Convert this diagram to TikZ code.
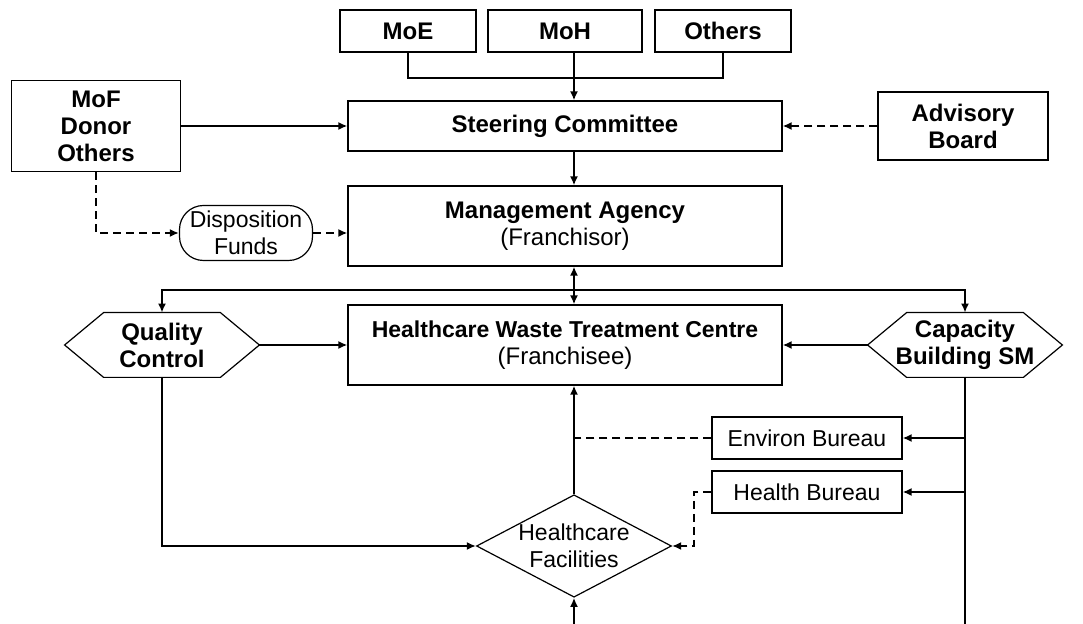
\documentclass[tikz,border=0pt]{standalone}
\usepackage{fontspec}
\setmainfont{Liberation Sans}
\usetikzlibrary{shapes.geometric,arrows.meta}

\begin{document}
\begin{tikzpicture}[x=0.5pt, y=-0.5pt, >={Latex[length=4.5pt,width=4pt]},
	box/.style={draw, line width=0.6pt, align=center, inner sep=1pt, font=\bfseries\fontsize{12}{13.5}\selectfont},
	plainbox/.style={box, font=\fontsize{11.5}{13.5}\selectfont},
	hexa/.style={align=center, inner sep=1pt, minimum width=97pt, minimum height=32pt, font=\bfseries\fontsize{12}{13.5}\selectfont},
	link/.style={line width=1pt},
	dashlink/.style={link, dash pattern=on 4pt off 2.5pt}]
	\useasboundingbox (0,0) rectangle (1083,624);
	\clip (0,0) rectangle (1083,624);
				% top row
				\node[box, minimum width=68pt, minimum height=21pt] (moe) at (408,31) {MoE};
				\node[box, minimum width=77pt, minimum height=21pt] (moh) at (565,31) {MoH};
				\node[box, minimum width=68pt, minimum height=21pt] (others) at (723,31) {Others};
				\node[box, minimum width=84.5pt, minimum height=45.5pt] (mof) at (96,126) {MoF\\Donor\\Others};
				\node[box, minimum width=217pt, minimum height=25pt] (steer) at (565,126) {Steering Committee};
				\node[box, minimum width=85pt, minimum height=34pt] (adv) at (963,126) {Advisory\\Board};
				\node[plainbox, rounded corners=12pt, minimum width=66.5pt, minimum height=27.5pt] (df) at (246,233) {Disposition\\Funds};
				\node[box, minimum width=217pt, minimum height=40pt] (ma) at (565,226) {Management Agency\\{\normalfont (Franchisor)}};
				% middle row
				\node[hexa] (qc) at (162,345) {Quality\\Control};
				\node[box, minimum width=217pt, minimum height=40pt] (hwtc) at (565,345) {{\fontsize{11.5}{13.5}\selectfont Healthcare Waste Treatment Centre}\\{\normalfont (Franchisee)}};
				\node[hexa] (cap) at (965,345) {Capacity\\Building SM};
				\foreach \n in {qc,cap}
					\draw[line width=0.6pt] (\n.west) -- ([xshift=19.5pt]\n.north west) -- ([xshift=-19.5pt]\n.north east) -- (\n.east) -- ([xshift=-19.5pt]\n.south east) -- ([xshift=19.5pt]\n.south west) -- cycle;
				% bureaus and facilities
				\node[plainbox, minimum width=95pt, minimum height=21pt] (env) at (807,438) {Environ Bureau};
				\node[plainbox, minimum width=95pt, minimum height=21pt] (hb) at (807,492) {Health Bureau};
				\node[plainbox, diamond, aspect=1.9, inner sep=0pt, minimum width=97.5pt, minimum height=51pt] (hf) at (574,546) {Healthcare\\Facilities};
				\coordinate (bus) at (574,290);
				\coordinate (low) at (574,660);
				% connectors
				\draw[link] (moe.south) -- ++(0,25) -| (others.south);
				\draw[link,->] ([xshift=4.5pt]moh.south) -- ([xshift=4.5pt]steer.north);
				\draw[link,->] (mof.east) -- (steer.west);
				\draw[dashlink,->] (adv.west) -- (steer.east);
				\draw[link,->] ([xshift=4.5pt]steer.south) -- ([xshift=4.5pt]ma.north);
				\draw[dashlink,->] (mof.south) |- (df.west);
				\draw[dashlink,->] (df.east) -- (df.east -| ma.west);
				\draw[link,<->] ([xshift=4.5pt]ma.south) -- ([xshift=4.5pt]hwtc.north);
				\draw[link,<->] (qc.north) |- (bus) -| (cap.north);
				\draw[link,->] (qc.east) -- (hwtc.west);
				\draw[link,->] (cap.west) -- (hwtc.east);
				\draw[link,->] (hf.north) -- (hf.north |- hwtc.south);
				\draw[dashlink] (env.west) -- (env.west -| hf.north);
				\draw[dashlink,->] (hb.west) -- ++(-8.5pt,0) |- (hf.east);
				\draw[link,->] (cap.south |- env) -- (env.east);
				\draw[link,->] (cap.south |- hb) -- (hb.east);
				\draw[link,->] (qc.south) |- (hf.west);
				\draw[link,->] (cap.south) |- (low) -- (hf.south);
			\end{tikzpicture}
\end{document}
